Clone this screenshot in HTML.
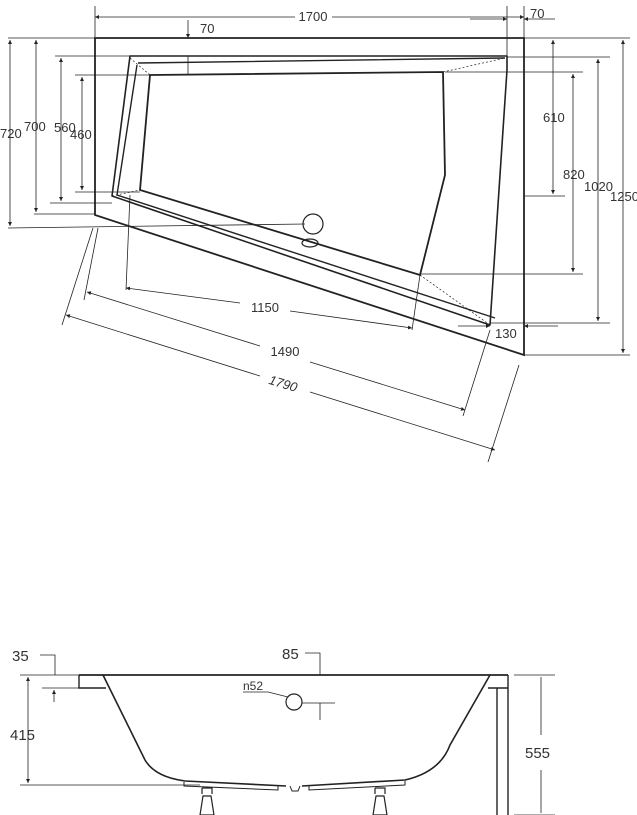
<!DOCTYPE html>
<html><head><meta charset="utf-8"><style>
html,body{margin:0;padding:0;background:#fff;}
svg{display:block;font-family:"Liberation Sans",sans-serif;}
</style></head><body>
<svg width="637" height="815" viewBox="0 0 637 815" xmlns="http://www.w3.org/2000/svg">
<defs>
<marker id="a" viewBox="0 0 6 6" refX="6" refY="3" markerWidth="5" markerHeight="5" orient="auto-start-reverse"><path d="M0,0L6,3L0,6z" fill="#222"/></marker>
</defs>
<g fill="none" stroke="#222">
<path d="M95,38 L524,38 L524,355 L95,215 Z" stroke-width="1.8"/>
<path d="M130,56 L507,56 L507,70 L490,325 L112,196 Z" stroke-width="1.6" stroke-linejoin="round"/>
<path d="M138,63 L505,58 M137,65 L117,195 L495,318" stroke-width="1.4"/>
<path d="M150,75 L443,72 L445,175 L420,275 L140,190 Z" stroke-width="1.8"/>
<path d="M112,196 L140,190 M130,58 L150,75 M443,72 L505,58 M420,275 L490,325" stroke-width="0.7" stroke-dasharray="2,2"/>
<circle cx="313" cy="224" r="10" stroke-width="1.2"/>
<ellipse cx="310" cy="243" rx="8" ry="4" stroke-width="1.2"/>
<g stroke-width="0.8">
<path d="M95,17 L295,17 M332,17 L524,17" marker-start="url(#a)" marker-end="url(#a)"/>
<path d="M95,6 L95,38 M524,6 L524,38"/>
<path d="M507,6 L507,70"/>
<path d="M470,19 L507,19" marker-end="url(#a)"/>
<path d="M555,19 L524,19" marker-end="url(#a)"/>
<path d="M188,20 L188,38" marker-end="url(#a)"/>
<path d="M188,56 L188,75"/>
<path d="M8,38 L95,38 M8,228 L305,224 M34,214 L95,214 M50,203 L112,203 M75,192 L140,192 M55,56 L130,56 M75,75 L150,75"/>
<path d="M10,40 L10,226" marker-start="url(#a)" marker-end="url(#a)"/>
<path d="M36,40 L36,212" marker-start="url(#a)" marker-end="url(#a)"/>
<path d="M61,58 L61,201" marker-start="url(#a)" marker-end="url(#a)"/>
<path d="M82,77 L82,190" marker-start="url(#a)" marker-end="url(#a)"/>
<path d="M524,38 L630,38 M524,196 L565,196 M445,72 L583,72 M420,274 L583,274 M507,57 L610,57 M490,323 L610,323 M524,355 L630,355"/>
<path d="M553,40 L553,194" marker-start="url(#a)" marker-end="url(#a)"/>
<path d="M573,74 L573,272" marker-start="url(#a)" marker-end="url(#a)"/>
<path d="M598,59 L598,321" marker-start="url(#a)" marker-end="url(#a)"/>
<path d="M623,40 L623,353" marker-start="url(#a)" marker-end="url(#a)"/>
<path d="M458,326 L490,326" marker-end="url(#a)"/>
<path d="M558,326 L524,326" marker-end="url(#a)"/>
<path d="M130,195 L126,290 M420,275 L412,330"/>
<path d="M126,288 L240,303 M290,311 L412,328" marker-start="url(#a)" marker-end="url(#a)"/>
<path d="M98,228 L84,300 M490,330 L463,416"/>
<path d="M87,292 L260,346 M310,362 L465,410" marker-start="url(#a)" marker-end="url(#a)"/>
<path d="M93,228 L62,325 M519,365 L488,462"/>
<path d="M66,315 L260,376 M310,392 L495,450" marker-start="url(#a)" marker-end="url(#a)"/>
</g>
</g>
<g font-size="13" fill="#333">
<text x="313" y="21" text-anchor="middle">1700</text>
<text x="530" y="18">70</text>
<text x="200" y="33">70</text>
<text x="0" y="138">720</text>
<text x="24" y="131">700</text>
<text x="54" y="132">560</text>
<text x="70" y="139">460</text>
<text x="543" y="122">610</text>
<text x="563" y="179">820</text>
<text x="584" y="191">1020</text>
<text x="610" y="201">1250</text>
<text x="495" y="338">130</text>
<text x="265" y="312" text-anchor="middle">1150</text>
<text x="285" y="356" text-anchor="middle">1490</text>
<text x="283" y="388" text-anchor="middle" font-style="italic" transform="rotate(17 283 384)">1790</text>
</g>
<g fill="none" stroke="#222">
<path d="M79,675 L508,675" stroke-width="1.8"/>
<path d="M79,675 L79,688 L106,688" stroke-width="1.4"/>
<path d="M497,688 L497,815 M508,675 L508,815 M488,688 L508,688" stroke-width="1.4"/>
<path d="M103,675 L145,760 Q155,777 185,781 L286,786 M302,786 L405,780 Q440,772 450,745 L490,675" stroke-width="1.6"/>
<path d="M184,782 L184,786 L278,790 L278,786 M290,786 L292,791 L298,791 L300,786 M309,786 L309,790 L405,785 L405,781" stroke-width="1"/>
<path d="M202,788 L212,788 L212,794 M202,794 L202,788 M200,815 L203,796 L211,796 L214,815 Z" stroke-width="1.2"/>
<path d="M375,788 L385,788 L385,794 M375,794 L375,788 M373,815 L376,796 L384,796 L387,815 Z" stroke-width="1.2"/>
<circle cx="294" cy="702" r="8" stroke-width="1.2"/>
<g stroke-width="0.8">
<path d="M40,655 L55,655 L55,675 M20,675 L79,675 M42,688 L79,688 M20,785 L200,785"/>
<path d="M54,702 L54,690" marker-end="url(#a)"/>
<path d="M28,677 L28,783" marker-start="url(#a)" marker-end="url(#a)"/>
<path d="M305,653 L320,653 L320,675"/>
<path d="M243,692 L268,692 L288,697 M302,703 L335,703 M320,703 L320,720"/>
<path d="M514,675 L555,675 M514,815 L555,815 M541,677 L541,735 M541,770 L541,813"/>
</g>
</g>
<g font-size="15" fill="#333">
<text x="12" y="661">35</text>
<text x="282" y="659">85</text>
<text x="10" y="740">415</text>
<text x="525" y="758">555</text>
<text x="243" y="690" font-size="12">n52</text>
</g>
</svg>
</body></html>
